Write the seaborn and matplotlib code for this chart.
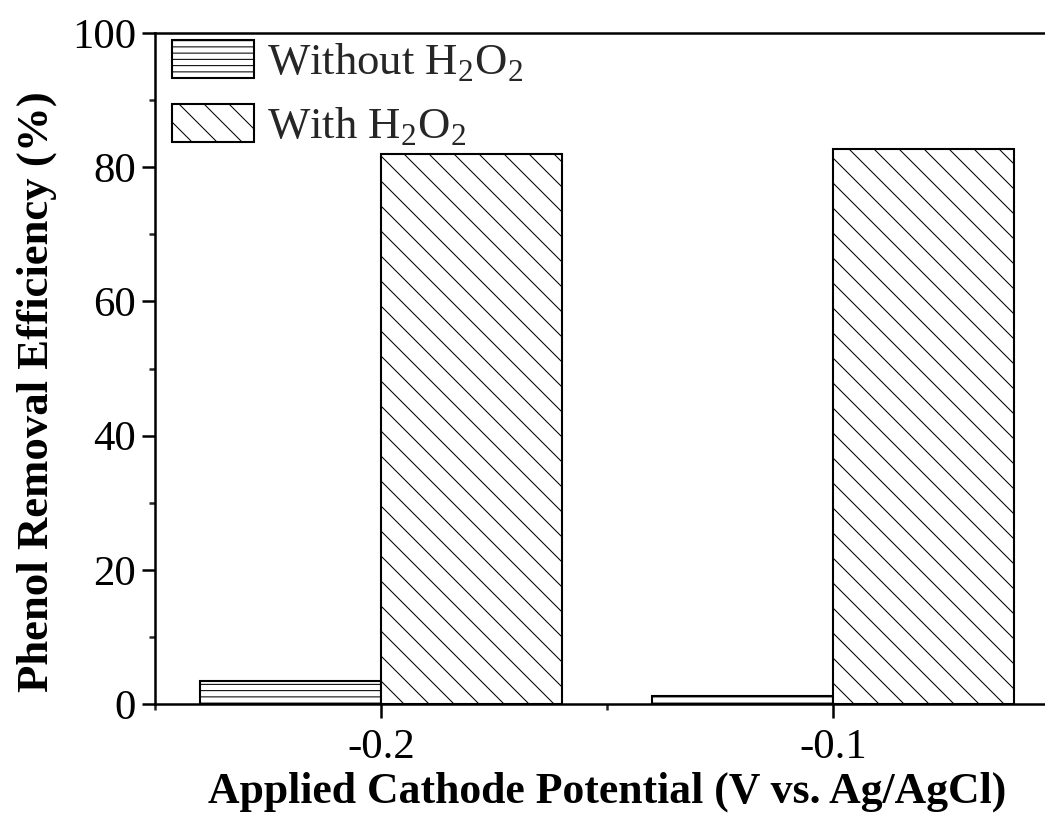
import numpy as np
import pandas as pd
import matplotlib
matplotlib.use("Agg")
import matplotlib.pyplot as plt
from matplotlib.ticker import FixedLocator, FixedFormatter
import seaborn as sns

# ---- data ----
potentials = [-0.2, -0.1]
without_h2o2 = [3.5, 1.2]
with_h2o2 = [81.9, 82.7]
series_labels = ["Without H$_\\mathregular{2}$O$_\\mathregular{2}$",
                 "With H$_\\mathregular{2}$O$_\\mathregular{2}$"]
xtick_vals = [-0.2, -0.1]
xtick_labels = ["-0.2", "-0.1"]
ytick_vals = [0, 20, 40, 60, 80, 100]
ytick_labels = ["0", "20", "40", "60", "80", "100"]

df = pd.DataFrame({
    "potential": potentials * 2,
    "eff": without_h2o2 + with_h2o2,
    "cond": [series_labels[0]] * len(potentials) + [series_labels[1]] * len(potentials),
})

sns.set_theme(style="ticks")
plt.rcParams["font.family"] = ["Liberation Serif", "DejaVu Serif"]
plt.rcParams["mathtext.fontset"] = "custom"
plt.rcParams["mathtext.rm"] = "Liberation Serif"
plt.rcParams["hatch.linewidth"] = 0.5
plt.rcParams["hatch.color"] = "black"
plt.rcParams["axes.unicode_minus"] = False

DPI = 150
fig = plt.figure(figsize=(1045 / DPI, 827 / DPI), dpi=DPI)
fig.patch.set_facecolor("white")
ax = fig.add_axes([155 / 1045, (827 - 704) / 827, 904 / 1045, 671 / 827])

sns.barplot(data=df, x="potential", y="eff", hue="cond", hue_order=series_labels,
            native_scale=True, width=0.8, dodge=True, errorbar=None,
            palette=["white", "white"], edgecolor="black", linewidth=1.0,
            saturation=1, legend=False, ax=ax)

hatches = ["----", "\\\\"]
for cont, h in zip(ax.containers, hatches):
    for p in cont.patches:
        p.set_hatch(h)
        p.set_facecolor("white")
        p.set_edgecolor("black")

ax.set_xlim(-0.25, -0.05)
ax.set_ylim(0, 100)
ax.xaxis.set_major_locator(FixedLocator(xtick_vals))
ax.xaxis.set_major_formatter(FixedFormatter(xtick_labels))
ax.xaxis.set_minor_locator(FixedLocator([-0.25, -0.15, -0.05]))
ax.yaxis.set_major_locator(FixedLocator(ytick_vals))
ax.yaxis.set_major_formatter(FixedFormatter(ytick_labels))
ax.yaxis.set_minor_locator(FixedLocator([10, 30, 50, 70, 90]))

for s in ax.spines.values():
    s.set_visible(True)
    s.set_linewidth(1.2)
    s.set_color("black")

ax.tick_params(axis="x", which="major", direction="out", length=6.7, width=1.2,
               pad=5.0, labelsize=20.5, colors="black")
ax.tick_params(axis="x", which="minor", direction="out", length=3.0, width=1.2)
ax.tick_params(axis="y", which="major", direction="out", length=6.2, width=1.2,
               pad=2.8, labelsize=20.5, colors="black")
ax.tick_params(axis="y", which="minor", direction="out", length=3.0, width=1.2)
ax.tick_params(top=False, right=False, which="both")

ax.set_xlabel("Applied Cathode Potential (V vs. Ag/AgCl)", fontsize=21,
              fontweight="bold", labelpad=2, color="black")
ax.set_ylabel("Phenol Removal Efficiency (%)", fontsize=21.5,
              fontweight="bold", color="black")
ax.yaxis.set_label_coords(-0.108, 0.465)

ax.legend(ax.containers, series_labels, loc="upper left",
          bbox_to_anchor=(17 / 904, 1 - 7 / 671), frameon=False,
          fontsize=21.5, handlelength=1.83, handleheight=0.94,
          labelspacing=0.45, handletextpad=0.29, borderpad=0, borderaxespad=0)

fig.savefig("out.png", dpi=DPI, facecolor="white")
